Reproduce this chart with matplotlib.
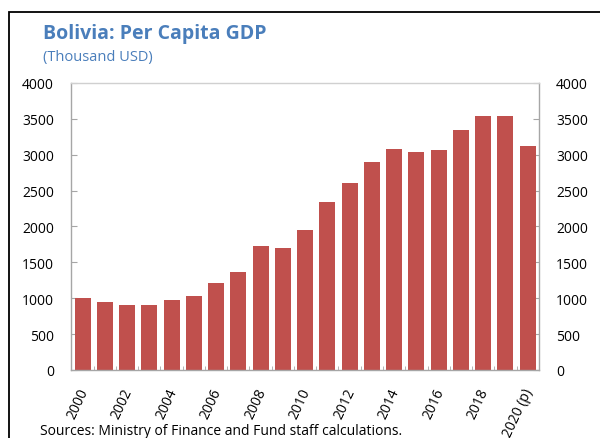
import matplotlib

matplotlib.use("Agg")
import matplotlib.pyplot as plt
import numpy as np
from matplotlib.patches import Rectangle
from matplotlib.transforms import ScaledTranslation

years = list(range(2000, 2021))
gdp_per_capita = [1000, 952, 906, 905, 971, 1031, 1217, 1366, 1728, 1696, 1947,
                  2337, 2602, 2904, 3074, 3033, 3069, 3340, 3533, 3533, 3120]
tick_labels = ["2000", "2002", "2004", "2006", "2008", "2010", "2012", "2014",
               "2016", "2018", "2020 (p)"]
y_ticks = [0, 500, 1000, 1500, 2000, 2500, 3000, 3500, 4000]

plt.rcParams["font.family"] = ["Open Sans", "DejaVu Sans"]

bar_color = "#C0504D"
title_color = "#4A7EBB"
spine_color = "#A6A6A6"

fig = plt.figure(figsize=(6.0, 4.39), dpi=100)
ax = fig.add_axes([0.119, 0.155, 0.779, 0.654])

x = np.arange(len(years))
ax.bar(x, gdp_per_capita, width=0.72, color=bar_color, zorder=2)

ax.set_xlim(-0.5, len(years) - 0.5)
ax.set_ylim(0, 4000)
ax.set_yticks(y_ticks)
ax.set_yticklabels([str(v) for v in y_ticks])
ax.tick_params(axis="y", direction="in", length=4, color=spine_color,
               labelsize=10, pad=12.5, left=True, right=True,
               labelleft=True, labelright=True)

# category labels on even years only; boundary ticks between bars
ax.set_xticks(x[::2])
ax.set_xticklabels(tick_labels, rotation=65, ha="right", va="top",
                   rotation_mode="anchor", fontsize=10)
ax.tick_params(axis="x", length=0, pad=9)
ax.set_xticks(np.arange(-0.5, len(years), 1.0), minor=True)
ax.tick_params(axis="x", which="minor", direction="in", length=3,
               color=spine_color)
nudge = ScaledTranslation(-5 / 100, -3 / 100, fig.dpi_scale_trans)
for lbl in ax.get_xticklabels():
    lbl.set_transform(lbl.get_transform() + nudge)

for side in ("left", "right", "bottom", "top"):
    ax.spines[side].set_color(spine_color)
    ax.spines[side].set_linewidth(1.0)
ax.spines["top"].set_color("#D0D0D0")

fig.text(0.072, 0.911, "Bolivia: Per Capita GDP", fontsize=14,
         fontweight="bold", color=title_color, va="baseline")
fig.text(0.072, 0.861, "(Thousand USD)", fontsize=10.5, color=title_color,
         va="baseline")
fig.text(0.067, 0.01, "Sources: Ministry of Finance and Fund staff calculations.",
         fontsize=10, color="#000000", va="baseline")

# panel frame running off the right and bottom edges
fig.patches.append(Rectangle((9 / 600, -0.2), 1.2, 0.2 + 1 - 13 / 439,
                             transform=fig.transFigure, fill=False,
                             edgecolor="#000000", linewidth=1.3))

fig.savefig("out.png", dpi=100)
plt.close(fig)
